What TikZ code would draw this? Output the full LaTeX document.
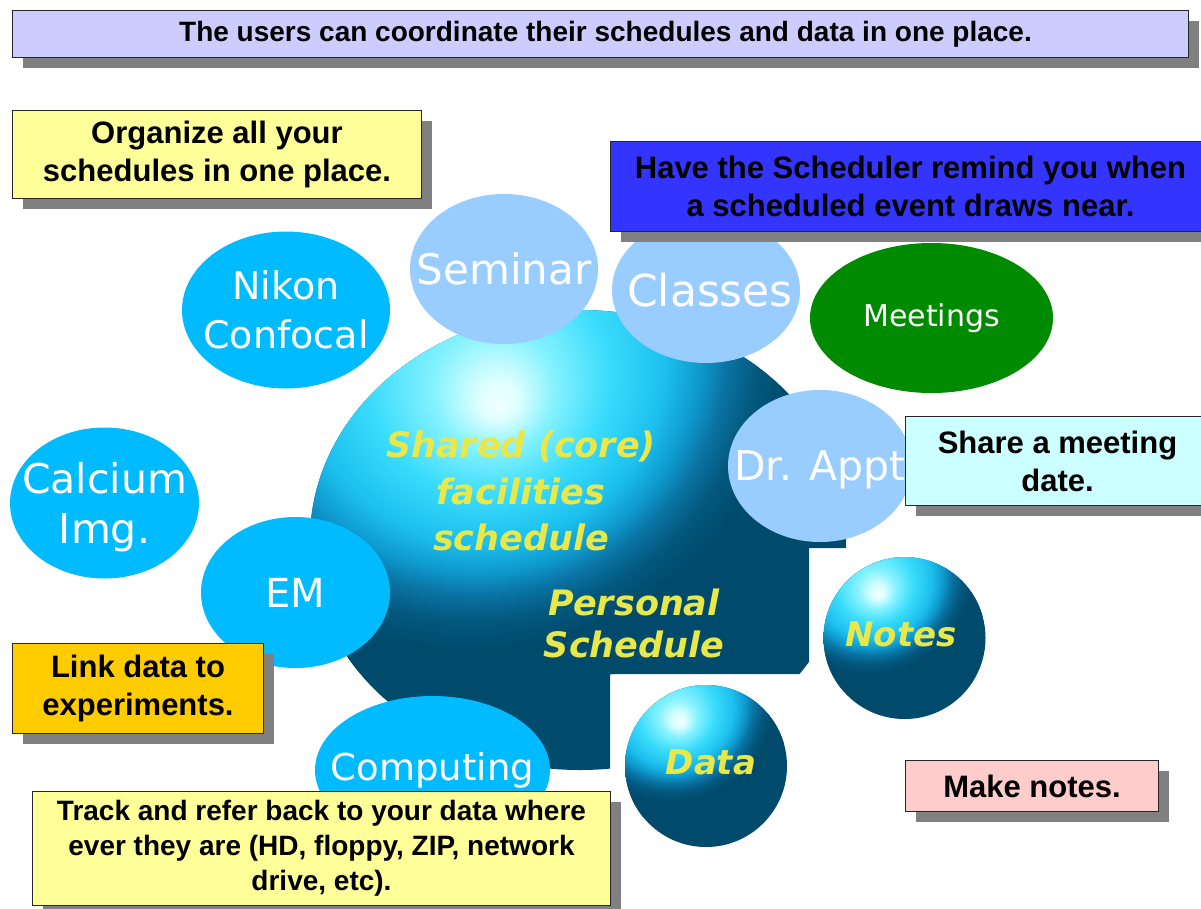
\documentclass[tikz,border=0pt]{standalone}
\usepackage{fontspec}
\setmainfont{Liberation Sans}
\newfontfamily\dvs{DejaVu Sans}
\usetikzlibrary{shapes.geometric,shadows}
\definecolor{lav}{HTML}{CCCCFF}
\definecolor{lemon}{HTML}{FFFF99}
\definecolor{royal}{HTML}{3434FF}
\definecolor{icecyan}{HTML}{CCFFFF}
\definecolor{amber}{HTML}{FFCC00}
\definecolor{pinkish}{HTML}{FFCCCC}
\definecolor{skyb}{HTML}{99CCFF}
\definecolor{azure}{HTML}{00BBFF}
\definecolor{grn}{HTML}{008A00}
\definecolor{dteal}{HTML}{004A6B}
\definecolor{ylw}{HTML}{E8E84A}
\definecolor{gA}{HTML}{F2FFFF}
\definecolor{gB}{HTML}{DDFFFF}
\definecolor{gC}{HTML}{86F2FF}
\definecolor{gD}{HTML}{3ADCFC}
\definecolor{gE}{HTML}{1CBFEE}
\definecolor{gF}{HTML}{0E98CC}
\definecolor{gG}{HTML}{0A74A4}
\definecolor{gH}{HTML}{03587E}
\definecolor{gI}{HTML}{004A6B}
\pgfdeclareradialshading{glow}{\pgfpoint{2.5bp}{-6.25bp}}{%
color(0bp)=(gA); color(1.25bp)=(gB); color(3.75bp)=(gC); color(7.5bp)=(gD);
color(11.5bp)=(gE); color(14bp)=(gF); color(15.75bp)=(gG); color(18bp)=(gH);
color(20.5bp)=(gI); color(25bp)=(gI)}
\begin{document}
\begin{tikzpicture}[x=1pt,y=-1pt,
  note/.style={draw=black!85, line width=1pt, anchor=north west, align=center,
    inner sep=0pt, font=\bfseries\fontsize{31}{38}\selectfont,
    drop shadow={shadow xshift=10pt, shadow yshift=-10pt, fill=black!50, opacity=1}},
  bubble/.style={ellipse, inner sep=0pt, draw=none},
  bubtxt/.style={text=white, align=center, inner sep=0pt},
  sphtxt/.style={text=ylw, align=center, inner sep=0pt,
    font=\dvs\bfseries\itshape\fontsize{35}{46.5}\selectfont}]
\useasboundingbox (0,0) rectangle (1201,908);
\fill[white] (0,0) rectangle (1201,908);

% big sphere
\begin{scope}
\clip (300,290) -- (846,290) -- (846,548) -- (809,548) -- (809,674) -- (610,674) -- (610,780) -- (300,780) -- cycle;
\clip (580,540) ellipse [x radius=270pt, y radius=230pt];
\fill[dteal] (300,290) rectangle (850,780);
\shade[shading=glow] (460,305) circle [radius=400pt];
\end{scope}

% small spheres
\begin{scope}
\clip (904.5,638) circle [radius=81pt];
\fill[dteal] (820,555) rectangle (990,720);
\shade[shading=glow] (865.5,562) circle [radius=129pt];
\end{scope}
\begin{scope}
\clip (706,766) circle [radius=81pt];
\fill[dteal] (620,680) rectangle (790,850);
\shade[shading=glow] (667,690) circle [radius=129pt];
\end{scope}

% bubbles
\node[bubble, fill=skyb, minimum width=188pt, minimum height=150pt] (seminar) at (504,269) {};
\node[bubtxt, font=\dvs\fontsize{42}{50}\selectfont] (seminarT) at (seminar) {Seminar};
\node[bubble, fill=skyb, minimum width=188pt, minimum height=146pt] (classes) at (706,290) {};
\node[bubtxt, font=\dvs\fontsize{44}{50}\selectfont] (classesT) at ([xshift=4pt]classes.center) {Classes};
\node[bubble, fill=azure, minimum width=208pt, minimum height=157pt] (nikon) at (286,310) {};
\node[bubtxt, font=\dvs\fontsize{38}{49}\selectfont] (nikonT) at (nikon) {Nikon\\Confocal};
\node[bubble, fill=grn, minimum width=243pt, minimum height=150pt] (meet) at (931.5,318) {};
\node[bubtxt, font=\dvs\fontsize{30}{36}\selectfont] (meetT) at (meet) {Meetings};
\node[bubble, fill=skyb, minimum width=184pt, minimum height=152pt] (appt) at (820,466) {};
\node[bubtxt, font=\dvs\fontsize{41}{50}\selectfont, text depth=0pt] (apptT) at (appt) {Dr. Appt};
\node[bubble, fill=azure, minimum width=189pt, minimum height=151pt] (calc) at (104.5,503) {};
\node[bubtxt, font=\dvs\fontsize{41}{50}\selectfont, text depth=0pt] (calcT) at (calc) {Calcium\\Img.};
\node[bubble, fill=azure, minimum width=189pt, minimum height=151pt] (em) at (295.5,592.5) {};
\node[bubtxt, font=\dvs\fontsize{40}{50}\selectfont] (emT) at (em) {EM};
\node[bubble, fill=azure, minimum width=235pt, minimum height=148pt] (comp) at (432.5,770) {};
\node[bubtxt, font=\dvs\fontsize{37}{45}\selectfont] (compT) at (comp) {Computing};

% sphere labels
\node[sphtxt] (shared) at (521,491) {Shared (core)\\facilities\\schedule};
\node[sphtxt, font=\dvs\bfseries\itshape\fontsize{35}{42}\selectfont] (personal) at (634,623) {Personal\\Schedule};
\node[sphtxt, font=\dvs\bfseries\itshape\fontsize{34}{40}\selectfont] (notes) at (901,634) {Notes};
\node[sphtxt, font=\dvs\bfseries\itshape\fontsize{34}{40}\selectfont] (data) at (711,762) {Data};

% message boxes
\node[note, fill=lav, minimum width=1176pt, minimum height=47pt,
  font=\bfseries\fontsize{28}{34}\selectfont] (title) at (12,10)
  {\hspace*{10pt}The users can coordinate their schedules and data in one place.};
\node[note, fill=lemon, minimum width=409pt, minimum height=88pt] (organize) at (12,110)
  {Organize all your\\schedules in one place.};
\node[note, fill=royal, minimum width=600pt, minimum height=90pt] (remind) at (610,141)
  {Have the Scheduler remind you when\\a scheduled event draws near.};
\node[note, fill=icecyan, minimum width=304pt, minimum height=89pt] (share) at (905,416)
  {Share a meeting\\date.};
\node[note, fill=amber, minimum width=251pt, minimum height=90pt] (link) at (12,643)
  {Link data to\\experiments.};
\node[note, fill=lemon, minimum width=578pt, minimum height=114pt,
  font=\bfseries\fontsize{28}{35}\selectfont] (track) at (32,791)
  {Track and refer back to your data where\\ever they are (HD, floppy, ZIP, network\\drive, etc).};
\node[note, fill=pinkish, minimum width=253pt, minimum height=51pt] (makenotes) at (905,760)
  {Make notes.};
\end{tikzpicture}
\end{document}
